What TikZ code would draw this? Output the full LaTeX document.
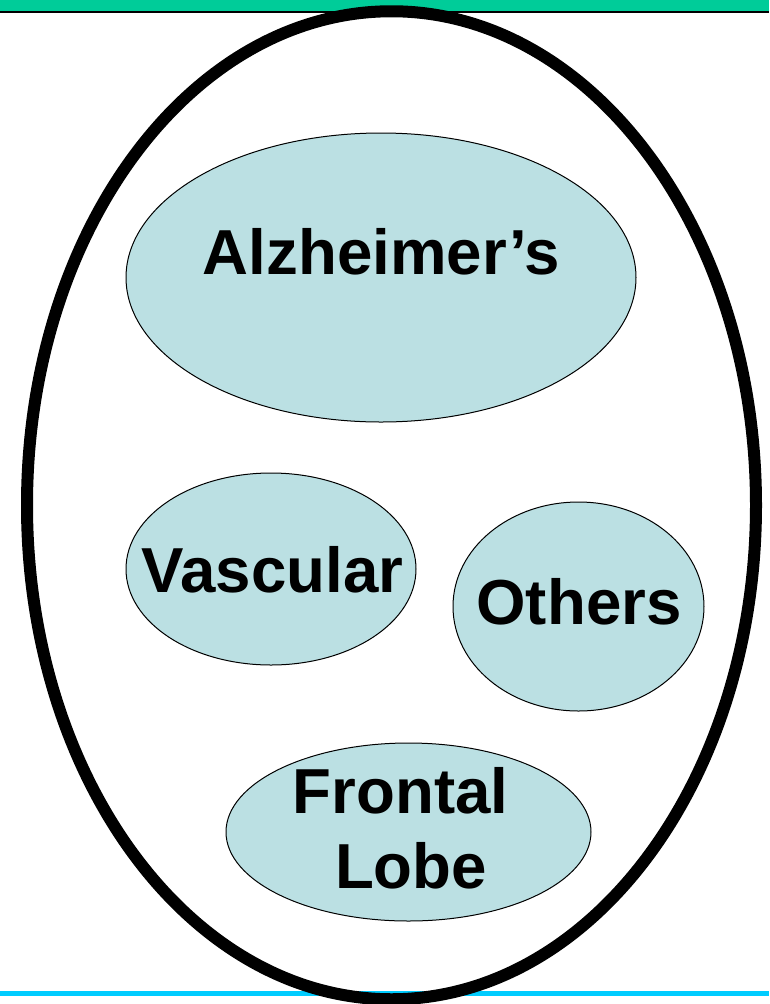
\documentclass[tikz,border=0pt]{standalone}
\usepackage{fontspec}
\setmainfont{Liberation Sans}
\usepackage{tikz}
\usetikzlibrary{shapes.geometric}

\tikzset{
  kind/.style={ellipse, draw, line width=0.75pt, fill={rgb, 255:red, 187; green, 224; blue, 227}, inner sep=0pt},
  kindtext/.style={font=\fontsize{47.7}{56.25}\selectfont\bfseries, anchor=base, inner sep=0pt}
}

\begin{document}
\begin{tikzpicture}[x=0.75pt,y=0.75pt,yscale=-1]
\useasboundingbox (0,0) rectangle (769,1004);
\fill[white] (0,0) rectangle (769,1004);

%Shape: Rectangle [top bar]
\fill[color={rgb, 255:red, 0; green, 204; blue, 153}] (0,0) rectangle (769,11);
%Straight Lines [top rule]
\draw[line width=1.9pt] (0,12.2) -- (769,12.2);
%Straight Lines [bottom rule]
\draw[color={rgb, 255:red, 0; green, 204; blue, 255}, line width=3.75pt] (0,993.5) -- (769,993.5);

%Shape: Ellipse [all dementias]
\node[ellipse, draw, line width=9pt, minimum width=546.75pt, minimum height=741pt, inner sep=0pt] (all) at (391.5,505.25) {};

%Shape: Ellipse
\node[kind, minimum width=382.5pt, minimum height=216.75pt] (alz) at (381,277.5) {};
\node[kind, minimum width=217.5pt, minimum height=144pt] (vasc) at (271,569) {};
\node[kind, minimum width=188.25pt, minimum height=156.75pt] (oth) at (578.5,606.5) {};
\node[kind, minimum width=273.75pt, minimum height=133.5pt] (front) at (408.5,832) {};

% Text Node
\node[kindtext] (alzlbl) at (381.5,274) {Alzheimer’s};
\node[kindtext] (vasclbl) at (272.5,592) {Vascular};
\node[kindtext] (othlbl) at (579,624) {Others};
\node[kindtext] (frontlbl) at (400.5,813) {Frontal};
\node[kindtext] (lobelbl) at (411,888) {Lobe};

\end{tikzpicture}
\end{document}
